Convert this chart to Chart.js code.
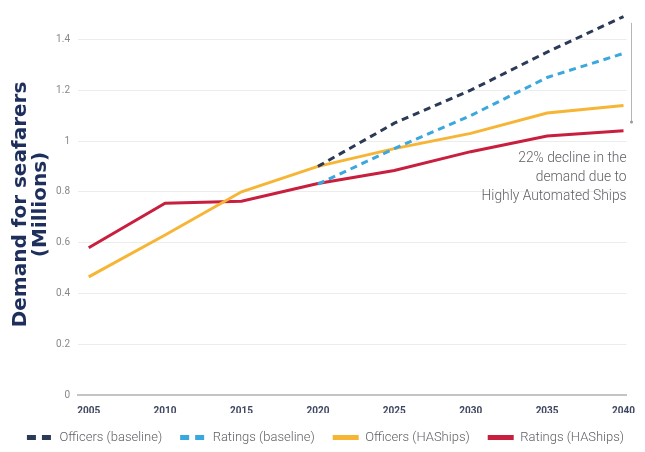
<!DOCTYPE html>
<html>
<head>
<meta charset="utf-8">
<script src="https://cdn.jsdelivr.net/npm/chart.js@4.4.1/dist/chart.umd.min.js"></script>
<style>
  html, body { margin: 0; padding: 0; background: #fff; }
  #wrap { width: 645px; height: 452px; }
</style>
</head>
<body>
<div id="wrap"><canvas id="seafarersChart"></canvas></div>
<script>
// Datos
const years = [2005, 2010, 2015, 2020, 2025, 2030, 2035, 2040];
const officersBaseline = [null, null, null, 0.90, 1.07, 1.20, 1.35, 1.49];
const ratingsBaseline = [null, null, null, 0.83, 0.97, 1.10, 1.25, 1.345];
const officersHAShips = [0.465, 0.63, 0.80, 0.90, 0.97, 1.03, 1.11, 1.14];
const ratingsHAShips = [0.58, 0.755, 0.763, 0.833, 0.884, 0.958, 1.02, 1.04];
const yTicks = [0, 0.2, 0.4, 0.6, 0.8, 1, 1.2, 1.4];
const noteLines = ['22% decline in the', 'demand due to', 'Highly Automated Ships'];

const sans = "Roboto, 'Liberation Sans', sans-serif";

function points(values) {
    return years.map((y, i) => ({ x: y, y: values[i] }));
}

// Nota de la derecha
const notePlugin = {
    id: 'note',
    afterDraw(chart) {
        const ctx = chart.ctx;
        const xs = chart.scales.x;
        const ys = chart.scales.y;
        const lx = xs.getPixelForValue(2040) + 8;
        ctx.save();
        ctx.strokeStyle = '#b5b5b5';
        ctx.lineWidth = 1;
        ctx.beginPath();
        ctx.moveTo(lx, ys.getPixelForValue(1.465));
        ctx.lineTo(lx, ys.getPixelForValue(1.075));
        ctx.stroke();
        ctx.fillStyle = '#999';
        ctx.beginPath();
        ctx.arc(lx, ys.getPixelForValue(1.075), 1.5, 0, Math.PI * 2);
        ctx.fill();

        ctx.fillStyle = '#5f5f66';
        ctx.font = '300 13.8px ' + sans;
        ctx.textAlign = 'right';
        ctx.textBaseline = 'middle';
        const right = xs.right;
        noteLines.forEach((t, i) => {
            ctx.fillText(t, right, ys.getPixelForValue(1) + 18 + i * 19);
        });
        ctx.restore();
    }
};

document.addEventListener('DOMContentLoaded', function() {
    const ctx = document.getElementById('seafarersChart').getContext('2d');
    const chart = new Chart(ctx, {
        type: 'line',
        data: {
            datasets: [{
                label: 'Officers (baseline)',
                data: points(officersBaseline),
                borderColor: '#2b3a57',
                borderWidth: 3,
                borderDash: [7, 5]
            }, {
                label: 'Ratings (baseline)',
                data: points(ratingsBaseline),
                borderColor: '#3aa7de',
                borderWidth: 3,
                borderDash: [7, 5]
            }, {
                label: 'Officers (HAShips)',
                data: points(officersHAShips),
                borderColor: '#f7b535',
                borderWidth: 3
            }, {
                label: 'Ratings (HAShips)',
                data: points(ratingsHAShips),
                borderColor: '#c81f3f',
                borderWidth: 3
            }]
        },
        options: {
            responsive: true,
            maintainAspectRatio: false,
            animation: false,
            elements: {
                point: { radius: 0 },
                line: { tension: 0, borderCapStyle: 'butt' }
            },
            layout: {
                padding: { top: 10, right: 2, left: 8, bottom: -2 }
            },
            plugins: {
                tooltip: { enabled: false },
                legend: {
                    position: 'bottom',
                    labels: {
                        usePointStyle: true,
                        pointStyleWidth: 26,
                        boxHeight: 6,
                        padding: 18,
                        color: '#666',
                        font: { family: sans, size: 13, weight: '300' },
                        generateLabels(chart) {
                            return chart.data.datasets.map((ds, i) => ({
                                text: ds.label,
                                fillStyle: ds.borderColor,
                                strokeStyle: ds.borderColor,
                                lineWidth: 5,
                                lineDash: ds.borderDash ? [9, 6] : [],
                                pointStyle: 'line',
                                fontColor: '#5f5f66',
                                datasetIndex: i
                            }));
                        }
                    }
                }
            },
            scales: {
                x: {
                    type: 'linear',
                    min: 2004.3,
                    max: 2040.2,
                    afterBuildTicks(scale) {
                        scale.ticks = years.map(v => ({ value: v }));
                    },
                    afterFit(scale) { scale.height = 18; },
                    afterUpdate(scale) { scale.right = scale.chart.width - 18; },
                    grid: { display: false, drawTicks: false },
                    border: { display: true, color: '#c4c4c4', width: 2 },
                    ticks: {
                        padding: 10,
                        maxRotation: 0,
                        color: '#3e4660',
                        font: { family: sans, size: 10, weight: 'bold' },
                        callback: v => String(v)
                    }
                },
                y: {
                    min: 0,
                    max: 1.5,
                    afterBuildTicks(scale) {
                        scale.ticks = yTicks.map(v => ({ value: v }));
                    },
                    afterFit(scale) { scale.width = 70; },
                    grid: { color: '#ececec', lineWidth: 1, drawTicks: false },
                    border: { display: false },
                    ticks: {
                        padding: 8,
                        color: '#888',
                        font: { family: sans, size: 10 },
                        callback: v => String(Math.round(v * 10) / 10)
                    },
                    title: {
                        display: true,
                        text: ['Demand for seafarers', '(Millions)'],
                        color: '#1e2f5c',
                        padding: { top: 3, bottom: 0 },
                        font: { family: "'DejaVu Sans', sans-serif", size: 20, weight: 'bold', lineHeight: 1.0 }
                    }
                }
            }
        },
        plugins: [notePlugin]
    });
});
</script>
</body>
</html>
